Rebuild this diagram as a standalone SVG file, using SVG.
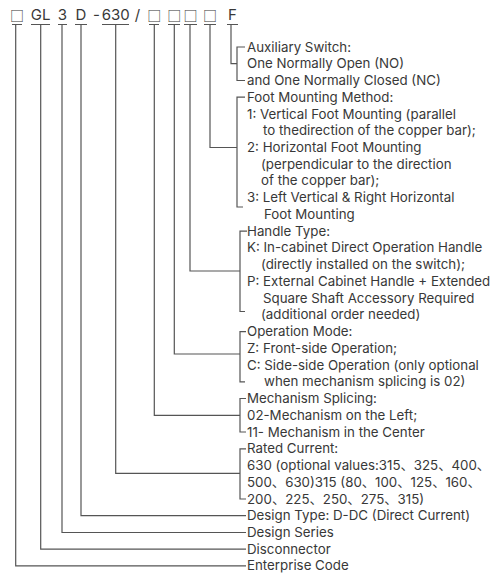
<svg xmlns="http://www.w3.org/2000/svg" width="493" height="574" viewBox="0 0 493 574">
<style>
.t{font-family:Inter,"Noto Sans CJK SC",sans-serif;font-size:13.3px;fill:#383838}
.c{font-family:Inter,"Noto Sans CJK SC",sans-serif;font-size:15px;fill:#383838;text-anchor:middle}
.b{font-family:"Noto Sans CJK SC",sans-serif;font-size:14px;fill:#383838;text-anchor:middle}
.l{fill:none;stroke:#555;stroke-width:1.2}
</style>
<rect width="493" height="574" fill="#fff"/>
<g id="code">
<text class="b" x="17" y="20.5">□</text>
<text class="c" x="40.7" y="20">GL</text>
<text class="c" x="62.5" y="20">3</text>
<text class="c" x="81" y="20">D</text>
<text class="c" x="96.5" y="20">-</text>
<text class="c" x="115.7" y="20">630</text>
<text class="c" x="137.5" y="20">/</text>
<text class="b" x="154.3" y="20.5">□</text>
<text class="b" x="174.3" y="20.5">□</text>
<text class="b" x="190.5" y="20.5">□</text>
<text class="b" x="210" y="20.5">□</text>
<text class="c" x="232.5" y="20">F</text>
</g>
<g id="connectors" class="l">
<path d="M12 24.5H22M31 24.5H50M58 24.5H67M75 24.5H87M102 24.5H129M149 24.5H159M168 24.5H180M184 24.5H197M204 24.5H216M227 24.5H238"/>
<path d="M231 24.5V63.7H237M245 47H237V80.5H245"/>
<path d="M210 24.5V147.5H237M245 97.2H237V207H243"/>
<path d="M190 24.5V271H240M247 231.1H240V311.5H245"/>
<path d="M174.3 24.5V354H240M246 331.6H240V381.8H245"/>
<path d="M154.3 24.5V415.3H240M246 398.5H240V432H246"/>
<path d="M115.7 24.5V473.3H240M246 448.8H240V499H246"/>
<path d="M81 24.5V515.7H246"/>
<path d="M62 24.5V532.5H246"/>
<path d="M40.7 24.5V549.2H246"/>
<path d="M15.7 24.5V565.9H246"/>
</g>
<g id="aux">
<text class="t" x="247" y="51.5">Auxiliary Switch:</text>
<text class="t" x="247" y="68.2">One Normally Open (NO)</text>
<text class="t" x="247" y="85">and One Normally Closed (NC)</text>
</g>
<g id="foot">
<text class="t" x="247" y="101.7">Foot Mounting Method:</text>
<text class="t" x="247" y="118.5">1: Vertical Foot Mounting (parallel</text>
<text class="t" x="263" y="135.2">to thedirection of the copper bar);</text>
<text class="t" x="247" y="151.9">2: Horizontal Foot Mounting</text>
<text class="t" x="261" y="168.7">(perpendicular to the direction</text>
<text class="t" x="261" y="185.4">of the copper bar);</text>
<text class="t" x="247" y="202.2">3: Left Vertical &amp; Right Horizontal</text>
<text class="t" x="264" y="218.9">Foot Mounting</text>
</g>
<g id="handle">
<text class="t" x="247" y="235.6">Handle Type:</text>
<text class="t" x="247" y="252.4">K: In-cabinet Direct Operation Handle</text>
<text class="t" x="261" y="269.1">(directly installed on the switch);</text>
<text class="t" x="247" y="285.9">P: External Cabinet Handle + Extended</text>
<text class="t" x="263" y="302.6">Square Shaft Accessory Required</text>
<text class="t" x="261" y="319.3">(additional order needed)</text>
</g>
<g id="operation">
<text class="t" x="247" y="336.1">Operation Mode:</text>
<text class="t" x="247" y="352.8">Z: Front-side Operation;</text>
<text class="t" x="247" y="369.6">C: Side-side Operation (only optional</text>
<text class="t" x="264" y="386.3">when mechanism splicing is 02)</text>
</g>
<g id="mechanism">
<text class="t" x="247" y="403">Mechanism Splicing:</text>
<text class="t" x="247" y="419.8">02-Mechanism on the Left;</text>
<text class="t" x="247" y="436.5">11- Mechanism in the Center</text>
</g>
<g id="rated">
<text class="t" x="247" y="453.3">Rated Current:</text>
<text class="t" x="247" y="470">630 (optional values:315、325、400、</text>
<text class="t" x="247" y="486.7">500、630)315 (80、100、125、160、</text>
<text class="t" x="247" y="503.5">200、225、250、275、315)</text>
</g>
<g id="design-type"><text class="t" x="247" y="520.2">Design Type: D-DC (Direct Current)</text></g>
<g id="design-series"><text class="t" x="247" y="537">Design Series</text></g>
<g id="disconnector"><text class="t" x="247" y="553.7">Disconnector</text></g>
<g id="enterprise"><text class="t" x="247" y="570.4">Enterprise Code</text></g>
</svg>
